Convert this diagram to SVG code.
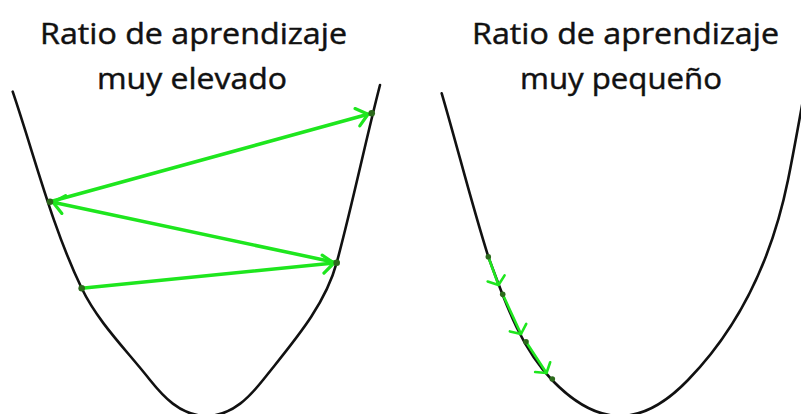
<svg xmlns="http://www.w3.org/2000/svg" width="801" height="414" viewBox="0 0 801 414">
<defs>
<style>
.title{font-family:"Open Sans","Noto Sans","Liberation Sans",sans-serif;font-size:29px;fill:#111;stroke:#111;stroke-width:0.45px;}
.curve{fill:none;stroke:#111;stroke-width:2.6;stroke-linecap:round;}
.big{fill:none;stroke:#1ee61e;stroke-width:3.5;stroke-linecap:round;}
.small{fill:none;stroke:#1ee61e;stroke-width:2.6;stroke-linecap:round;}
.dot{fill:#2c6a1c;}
</style>
<marker id="ahBig" markerUnits="userSpaceOnUse" viewBox="-14 -12 16 24" markerWidth="16" markerHeight="24" refX="0" refY="0" orient="auto" overflow="visible">
<path d="M-11,-9 L0,0 L-11,9" fill="none" stroke="#1ee61e" stroke-width="3.2" stroke-linecap="round" stroke-linejoin="round"/>
</marker>
<marker id="ahSmall" markerUnits="userSpaceOnUse" viewBox="-10 -10 12 20" markerWidth="12" markerHeight="20" refX="0" refY="0" orient="auto" overflow="visible">
<path d="M-7,-9 L0,0 L-7,9" fill="none" stroke="#1ee61e" stroke-width="2.6" stroke-linecap="round" stroke-linejoin="round"/>
</marker>
</defs>
<rect width="801" height="414" fill="#ffffff"/>

<g id="title-left">
<text class="title" x="40" y="44" textLength="307" lengthAdjust="spacingAndGlyphs">Ratio de aprendizaje</text>
<text class="title" x="97" y="89" textLength="190" lengthAdjust="spacingAndGlyphs">muy elevado</text>
</g>
<g id="title-right">
<text class="title" x="472" y="44" textLength="307" lengthAdjust="spacingAndGlyphs">Ratio de aprendizaje</text>
<text class="title" x="520" y="89" textLength="202" lengthAdjust="spacingAndGlyphs">muy pequeño</text>
</g>

<g id="curve-left">
<path class="curve" d="M12.7,91.7 C34.8,157 51.8,226.1 81.7,288.3 C98.2,322.5 126.5,350.1 150,380 C162,395 180,416 206.5,416 C233,416 251,395 263,380 C291.5,343.9 324.7,307.1 336.7,262.7 C352.6,203.8 364.8,144 380,85"/>
</g>
<g id="curve-right">
<path class="curve" d="M441.7,93.3 C457.7,148 471.2,202.3 488.3,256.7 C504.4,299.8 519.9,347 552,380 C566,394.5 590,416 620,416 C650,416 674,394.5 688,380 C743.8,322.6 773,253.5 788,180 C793.4,153.5 798.1,126.5 803,100"/>
</g>

<g id="connectors">
<line class="big" x1="81.7" y1="288.3" x2="334" y2="263" marker-end="url(#ahBig)"/>
<line class="big" x1="336.7" y1="262.7" x2="53" y2="202.3" marker-end="url(#ahBig)"/>
<line class="big" x1="50" y1="201.7" x2="368" y2="114.3" marker-end="url(#ahBig)"/>
<line class="small" x1="488.3" y1="256.7" x2="498.5" y2="285" marker-end="url(#ahSmall)"/>
<line class="small" x1="502.7" y1="294.3" x2="521" y2="334" marker-end="url(#ahSmall)"/>
<line class="small" x1="526" y1="341.7" x2="546.5" y2="373" marker-end="url(#ahSmall)"/>
</g>

<g id="points-left">
<circle class="dot" cx="81.7" cy="288.3" r="3.3"/>
<circle class="dot" cx="336.7" cy="262.7" r="3.3"/>
<circle class="dot" cx="50" cy="201.7" r="3.3"/>
<circle class="dot" cx="371.7" cy="113.3" r="3.3"/>
</g>
<g id="points-right">
<circle class="dot" cx="488.3" cy="256.7" r="2.8"/>
<circle class="dot" cx="502.7" cy="294.3" r="2.8"/>
<circle class="dot" cx="526" cy="341.7" r="2.8"/>
<circle class="dot" cx="552.3" cy="379" r="2.8"/>
</g>
</svg>
